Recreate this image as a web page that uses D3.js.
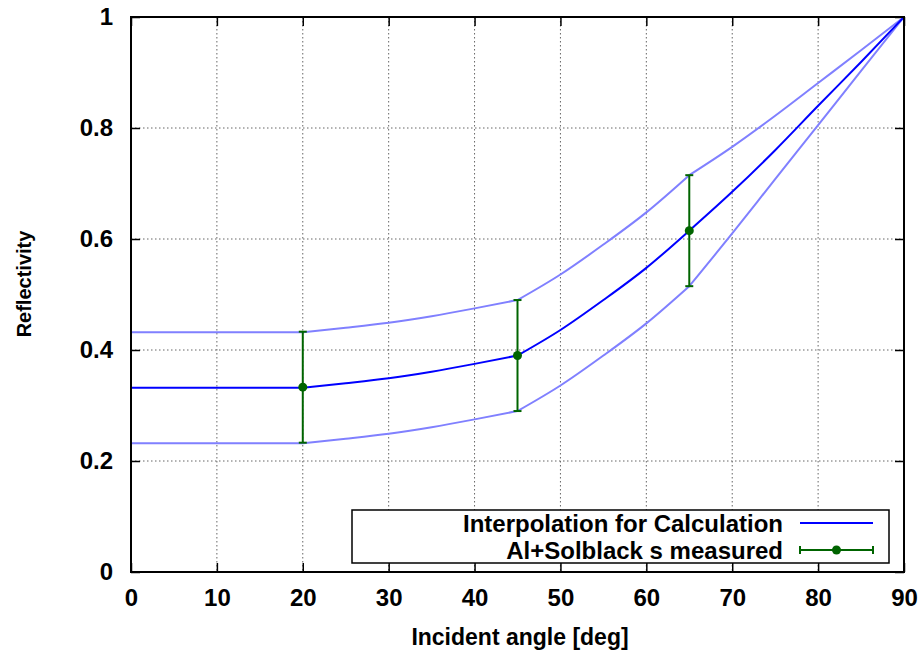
<!DOCTYPE html>
<html><head><meta charset="utf-8">
<script src="https://cdn.jsdelivr.net/npm/d3@7"></script>
<style>body{margin:0;background:#fff}svg{display:block}text{font-family:"Liberation Sans",Arial,sans-serif;fill:#000;font-weight:bold}</style>
</head><body><svg id="c" width="923" height="652"></svg>
<script>
const angles = [0, 20, 25, 30, 35, 40, 45, 50, 55, 60, 65, 70, 75, 80, 85, 90];
const middle = [0.332, 0.332, 0.340, 0.349, 0.361, 0.375, 0.390, 0.436, 0.490, 0.548, 0.615, 0.685, 0.760, 0.840, 0.919, 1.0];
const upper  = [0.432, 0.432, 0.440, 0.449, 0.461, 0.475, 0.490, 0.536, 0.590, 0.648, 0.715, 0.766, 0.822, 0.881, 0.940, 1.0];
const lower  = [0.232, 0.232, 0.240, 0.249, 0.261, 0.275, 0.290, 0.336, 0.390, 0.448, 0.515, 0.610, 0.708, 0.805, 0.903, 1.0];
const breakAngles = [0, 20, 45, 65, 90];
const measAngles = [20, 45, 65];
const measValues = [0.333, 0.390, 0.615];
const measErrors = [0.1, 0.1, 0.1];
const xTicks = [0, 10, 20, 30, 40, 50, 60, 70, 80, 90];
const yTicks = [0, 0.2, 0.4, 0.6, 0.8, 1];
const legendLabels = ["Interpolation for Calculation", "Al+Solblack s measured"];

const svg = d3.select("#c");
const L = 131, R = 904, T = 17, B = 572;
const x = d3.scaleLinear().domain([0, 90]).range([L, R]);
const y = d3.scaleLinear().domain([0, 1]).range([B, T]);

// grid
const grid = svg.append("g").attr("stroke", "#666").attr("stroke-width", 1).attr("stroke-dasharray", "1.5,2.5");
xTicks.slice(1, -1).forEach(v => grid.append("line").attr("x1", x(v)).attr("x2", x(v)).attr("y1", T).attr("y2", B));
yTicks.slice(1, -1).forEach(v => grid.append("line").attr("y1", y(v)).attr("y2", y(v)).attr("x1", L).attr("x2", R));

// axes
const fs = 24;
const xb = svg.append("g").attr("transform", `translate(0,${B})`).call(d3.axisBottom(x).tickValues(xTicks).tickFormat(d3.format("d")).tickSizeInner(-9).tickSizeOuter(0).tickPadding(17));
const xt = svg.append("g").attr("transform", `translate(0,${T})`).call(d3.axisTop(x).tickValues(xTicks).tickFormat("").tickSizeInner(-9).tickSizeOuter(0));
const yl = svg.append("g").attr("transform", `translate(${L},0)`).call(d3.axisLeft(y).tickValues(yTicks).tickFormat(d => d === 0 || d === 1 ? String(d) : d3.format(".1f")(d)).tickSizeInner(-9).tickSizeOuter(0).tickPadding(18));
const yr = svg.append("g").attr("transform", `translate(${R},0)`).call(d3.axisRight(y).tickValues(yTicks).tickFormat("").tickSizeInner(-9).tickSizeOuter(0));
[xb, xt, yl, yr].forEach(g => {
  g.select(".domain").remove();
  g.selectAll(".tick line").attr("stroke", "#000").attr("stroke-width", 1.5);
  g.selectAll("text").attr("font-size", fs).attr("font-family", "Liberation Sans, Arial, sans-serif").attr("font-weight", "bold").attr("fill", "#000");
});

// curves, drawn piecewise between break angles so the kinks stay sharp
const pts = vals => angles.map((a, i) => [a, vals[i]]);
const line = d3.line().x(d => x(d[0])).y(d => y(d[1])).curve(d3.curveMonotoneX);
function drawPiecewise(vals, color) {
  const p = pts(vals);
  for (let k = 0; k < breakAngles.length - 1; k++) {
    const seg = p.filter(d => d[0] >= breakAngles[k] && d[0] <= breakAngles[k + 1]);
    svg.append("path").attr("d", line(seg)).attr("fill", "none").attr("stroke", color).attr("stroke-width", 2).attr("stroke-linecap", "round");
  }
}
drawPiecewise(upper, "#8080ff");
drawPiecewise(lower, "#8080ff");
drawPiecewise(middle, "#0000ff");

// error bars
const green = "#006400";
const eb = svg.append("g").attr("stroke", green).attr("stroke-width", 2);
measAngles.forEach((a, i) => {
  const cx = x(a), v = measValues[i], e = measErrors[i];
  eb.append("line").attr("x1", cx).attr("x2", cx).attr("y1", y(v - e)).attr("y2", y(v + e));
  eb.append("line").attr("x1", cx - 4).attr("x2", cx + 4).attr("y1", y(v - e)).attr("y2", y(v - e));
  eb.append("line").attr("x1", cx - 4).attr("x2", cx + 4).attr("y1", y(v + e)).attr("y2", y(v + e));
  svg.append("circle").attr("cx", cx).attr("cy", y(v)).attr("r", 4.5).attr("fill", green);
});

// frame
svg.append("rect").attr("x", L).attr("y", T).attr("width", R - L).attr("height", B - T).attr("fill", "none").attr("stroke", "#000").attr("stroke-width", 2);

// legend
const lg = svg.append("g");
lg.append("rect").attr("x", 352).attr("y", 510).attr("width", 537).attr("height", 53).attr("fill", "#fff").attr("stroke", "#000").attr("stroke-width", 1.5);
const rows = [523, 550];
legendLabels.forEach((t, i) => {
  lg.append("text").attr("x", 783).attr("y", rows[i]).attr("dy", "0.36em").attr("text-anchor", "end").attr("font-size", 24).text(t);
});
lg.append("line").attr("x1", 800).attr("x2", 873).attr("y1", rows[0]).attr("y2", rows[0]).attr("stroke", "#0000ff").attr("stroke-width", 2);
const lg2 = lg.append("g").attr("stroke", green).attr("stroke-width", 2);
lg2.append("line").attr("x1", 800).attr("x2", 873).attr("y1", rows[1]).attr("y2", rows[1]);
lg2.append("line").attr("x1", 800).attr("x2", 800).attr("y1", rows[1] - 4).attr("y2", rows[1] + 4);
lg2.append("line").attr("x1", 873).attr("x2", 873).attr("y1", rows[1] - 4).attr("y2", rows[1] + 4);
lg.append("circle").attr("cx", 836.5).attr("cy", rows[1]).attr("r", 4.5).attr("fill", green);

// axis titles
svg.append("text").attr("x", 520).attr("y", 645).attr("text-anchor", "middle").attr("font-size", 23).text("Incident angle [deg]");
svg.append("text").attr("transform", "translate(31,284) rotate(-90)").attr("text-anchor", "middle").attr("font-size", 20).text("Reflectivity");
</script></body></html>
